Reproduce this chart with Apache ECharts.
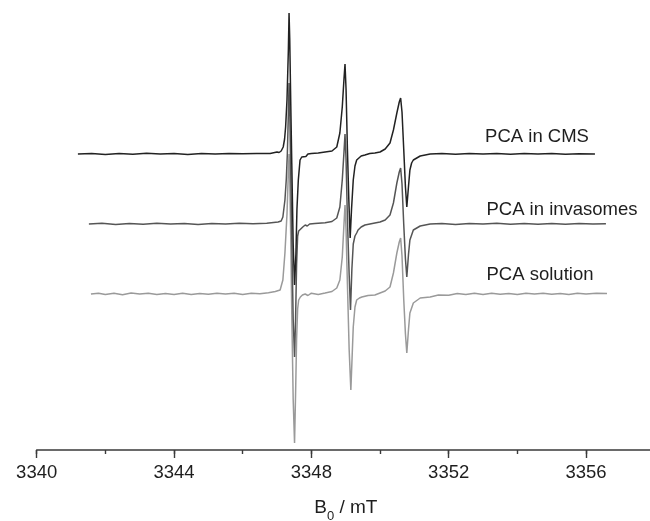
<!DOCTYPE html>
<html>
<head>
<meta charset="utf-8">
<script src="https://cdn.jsdelivr.net/npm/echarts@6/dist/echarts.min.js"></script>
<style>
  html, body { margin: 0; padding: 0; background: #fff; }
  #chart { width: 650px; height: 521px; }
</style>
</head>
<body>
<div id="chart"></div>
<script>
  // 三条谱线: [磁场 mT, 相对基线的信号]
  const cmsTrace = [
    [3341.20, 0], [3341.6, 0.6], [3342.0, -0.4], [3342.4, 0.5], [3342.8, -0.3], [3343.2, 0.7],
    [3343.6, 0], [3344.0, 0.5], [3344.4, -0.4], [3344.8, 0.4], [3345.2, 0], [3345.6, 0.6],
    [3346.0, 0.2], [3346.4, 0.6], [3346.8, 0.4], [3347.00, 2], [3347.06, 1.5], [3347.12, 3],
    [3347.18, 7], [3347.22, 15], [3347.25, 27], [3347.29, 54], [3347.33, 104], [3347.35, 141],
    [3347.37, 115], [3347.40, 50], [3347.43, -10], [3347.47, -90], [3347.51, -131], [3347.55, -100],
    [3347.58, -55], [3347.62, -26], [3347.67, -6], [3347.72, -3], [3347.77, -1], [3347.84, -2.5],
    [3347.90, 0], [3348.0, 0.5], [3348.2, 1], [3348.4, 2], [3348.6, 3], [3348.74, 7],
    [3348.83, 21], [3348.90, 47], [3348.95, 75], [3348.98, 90], [3349.01, 65], [3349.05, 5],
    [3349.09, -45], [3349.13, -84], [3349.17, -55], [3349.22, -26], [3349.27, -12], [3349.32, -6],
    [3349.45, -2], [3349.56, -1], [3349.7, 0.5], [3349.85, 1], [3350.0, 2], [3350.15, 5],
    [3350.29, 11], [3350.39, 24], [3350.49, 41], [3350.56, 52], [3350.60, 56], [3350.64, 42],
    [3350.69, 5], [3350.74, -33], [3350.78, -53], [3350.83, -32], [3350.87, -16], [3350.92, -9],
    [3350.97, -6], [3351.17, -2], [3351.46, 0], [3351.8, 0.4], [3352.2, -0.3], [3352.6, 0.5],
    [3353.0, 0], [3353.4, 0.6], [3353.8, -0.2], [3354.2, 0.4], [3354.6, 0], [3355.0, 0.5],
    [3355.4, -0.3], [3355.8, 0.3], [3356.26, 0]
  ]
  const invasomeTrace = [
    [3341.52, 0], [3341.9, 0.7], [3342.3, -0.5], [3342.7, 0.6], [3343.1, -0.3], [3343.5, 0.8],
    [3343.9, 0], [3344.3, 0.6], [3344.7, -0.5], [3345.1, 0.5], [3345.5, 0], [3345.9, 0.7],
    [3346.3, 0.3], [3346.7, 0.8], [3347.03, 2], [3347.12, 3], [3347.17, 7], [3347.23, 24],
    [3347.27, 45], [3347.30, 70], [3347.33, 110], [3347.35, 141], [3347.37, 115], [3347.40, 50],
    [3347.43, -15], [3347.47, -95], [3347.51, -133], [3347.54, -95], [3347.57, -40], [3347.60, -12],
    [3347.63, -7], [3347.67, -5], [3347.75, -3], [3347.82, -1], [3347.88, -2], [3347.95, 0],
    [3348.1, 0.5], [3348.4, 1.3], [3348.6, 2.5], [3348.74, 6], [3348.83, 17], [3348.90, 44],
    [3348.95, 72], [3348.98, 90], [3349.01, 65], [3349.05, 5], [3349.10, -50], [3349.14, -86],
    [3349.18, -45], [3349.22, -20], [3349.27, -12], [3349.32, -9], [3349.36, -6], [3349.45, -3],
    [3349.56, -1], [3349.85, 1], [3350.0, 2], [3350.15, 4], [3350.29, 9], [3350.39, 21],
    [3350.49, 41], [3350.56, 52], [3350.60, 56], [3350.64, 40], [3350.69, 0], [3350.74, -35],
    [3350.78, -53], [3350.83, -30], [3350.87, -16], [3350.97, -6], [3351.17, -2], [3351.46, 0],
    [3351.8, 0.5], [3352.2, -0.4], [3352.6, 0.6], [3353.0, 0], [3353.4, 0.7], [3353.8, -0.3],
    [3354.2, 0.5], [3354.6, -0.2], [3355.0, 0.6], [3355.4, -0.3], [3355.8, 0.4], [3356.2, 0],
    [3356.58, 0.3]
  ]
  const solutionTrace = [
    [3341.58, 0], [3341.8, 0.8], [3342.0, -0.6], [3342.25, 0.7], [3342.5, -0.7], [3342.75, 0.9],
    [3343.0, 0], [3343.25, 0.8], [3343.5, -0.6], [3343.75, 0.6], [3344.0, -0.4], [3344.25, 0.7],
    [3344.5, -0.4], [3344.75, 0.6], [3345.0, -0.3], [3345.25, 0.8], [3345.5, 0], [3345.75, 0.7],
    [3346.0, -0.4], [3346.25, 0.7], [3346.5, 0.2], [3346.75, 1.2], [3346.95, 2.5], [3347.09, 4],
    [3347.17, 14], [3347.23, 41], [3347.29, 80], [3347.33, 122], [3347.35, 140], [3347.37, 115],
    [3347.40, 55], [3347.43, -20], [3347.47, -105], [3347.51, -149], [3347.54, -100], [3347.57, -45],
    [3347.60, -15], [3347.63, -6], [3347.68, -3], [3347.74, -1], [3347.82, 0], [3347.9, -1.5],
    [3348.0, 0.8], [3348.2, -0.4], [3348.4, 1], [3348.6, 2.5], [3348.74, 6], [3348.83, 14],
    [3348.90, 37], [3348.95, 70], [3348.98, 89], [3349.01, 65], [3349.05, 10], [3349.10, -55],
    [3349.15, -96], [3349.19, -60], [3349.22, -33], [3349.27, -13], [3349.32, -6], [3349.40, -4],
    [3349.47, -3], [3349.65, -1.5], [3349.85, -1], [3350.0, 1], [3350.15, 3], [3350.29, 7],
    [3350.39, 21], [3350.49, 41], [3350.56, 52], [3350.60, 56], [3350.64, 38], [3350.69, -5],
    [3350.74, -40], [3350.78, -59], [3350.83, -35], [3350.87, -19], [3350.97, -9], [3351.17, -4],
    [3351.46, -3], [3351.7, -1], [3352.0, -1.2], [3352.25, 0.4], [3352.5, -0.6], [3352.75, 0.7],
    [3353.0, -0.4], [3353.25, 0.7], [3353.5, -0.3], [3353.75, 0.6], [3354.0, -0.5], [3354.25, 0.7],
    [3354.5, 0], [3354.75, 0.8], [3355.0, -0.3], [3355.25, 0.6], [3355.5, -0.5], [3355.75, 0.7],
    [3356.0, 0], [3356.3, 0.7], [3356.61, 0.4]
  ]
  // 每条谱线的纵向偏移（任意单位）
  const traceNames = ['PCA solution', 'PCA in invasomes', 'PCA in CMS']
  const traceOffsets = [156, 226, 296]
  const traceColors = ['#9a9a9a', '#555555', '#222222']
  const traces = [solutionTrace, invasomeTrace, cmsTrace]

  const fontFamily = '"Liberation Sans", Arial, sans-serif'
  const chartDom = echarts.init(document.getElementById('chart'))

  const series = traces.map((trace, i) => ({
    name: traceNames[i],
    type: 'line',
    showSymbol: false,
    animation: false,
    data: trace.map(([field, signal]) => [field, signal + traceOffsets[i]]),
    lineStyle: { color: traceColors[i], width: 1.5 },
    z: 2 + i
  }))

  // 曲线标签
  const labelText = (text, x, y) => ({
    type: 'text',
    x: x,
    y: y,
    style: {
      text: text,
      fill: '#1e1e1e',
      font: '18.5px ' + fontFamily,
      align: 'center',
      verticalAlign: 'middle'
    }
  })

  chartDom.setOption({
    animation: false,
    grid: { left: 36.7, right: -4.7, top: 0, bottom: 71, outerBoundsMode: 'none' },
    xAxis: [
      {
        type: 'value',
        min: 3340,
        max: 3358,
        interval: 4,
        name: '{g| }{b|B}{s|0}{b| / mT}',
        nameLocation: 'middle',
        nameGap: 48,
        nameTextStyle: {
          rich: {
            g: { fontSize: 1, lineHeight: 25, verticalAlign: 'top' },
            b: { fontSize: 19, lineHeight: 19, color: '#1e1e1e', fontFamily: fontFamily, verticalAlign: 'top' },
            s: { fontSize: 13, lineHeight: 13, color: '#1e1e1e', fontFamily: fontFamily, verticalAlign: 'bottom' }
          }
        },
        axisLine: { show: true, onZero: false, lineStyle: { color: '#3a3a3a', width: 1.6 } },
        axisTick: { show: true, length: 8, lineStyle: { color: '#3a3a3a', width: 1.4 } },
        axisLabel: {
          margin: 13,
          fontSize: 18.5,
          color: '#1e1e1e',
          fontFamily: fontFamily,
          showMaxLabel: false,
          formatter: (v) => String(v)
        },
        splitLine: { show: false }
      },
      {
        // 次刻度
        type: 'value',
        min: 3340,
        max: 3358,
        interval: 2,
        position: 'bottom',
        axisLine: { show: false, onZero: false },
        axisTick: { show: true, length: 4, lineStyle: { color: '#3a3a3a', width: 1.4 } },
        axisLabel: { show: false },
        splitLine: { show: false }
      }
    ],
    yAxis: {
      type: 'value',
      min: 0,
      max: 450,
      show: false
    },
    series: series,
    graphic: [
      labelText('PCA in CMS', 537, 137),
      labelText('PCA in invasomes', 562, 210),
      labelText('PCA solution', 540, 275)
    ]
  })
</script>
</body>
</html>
